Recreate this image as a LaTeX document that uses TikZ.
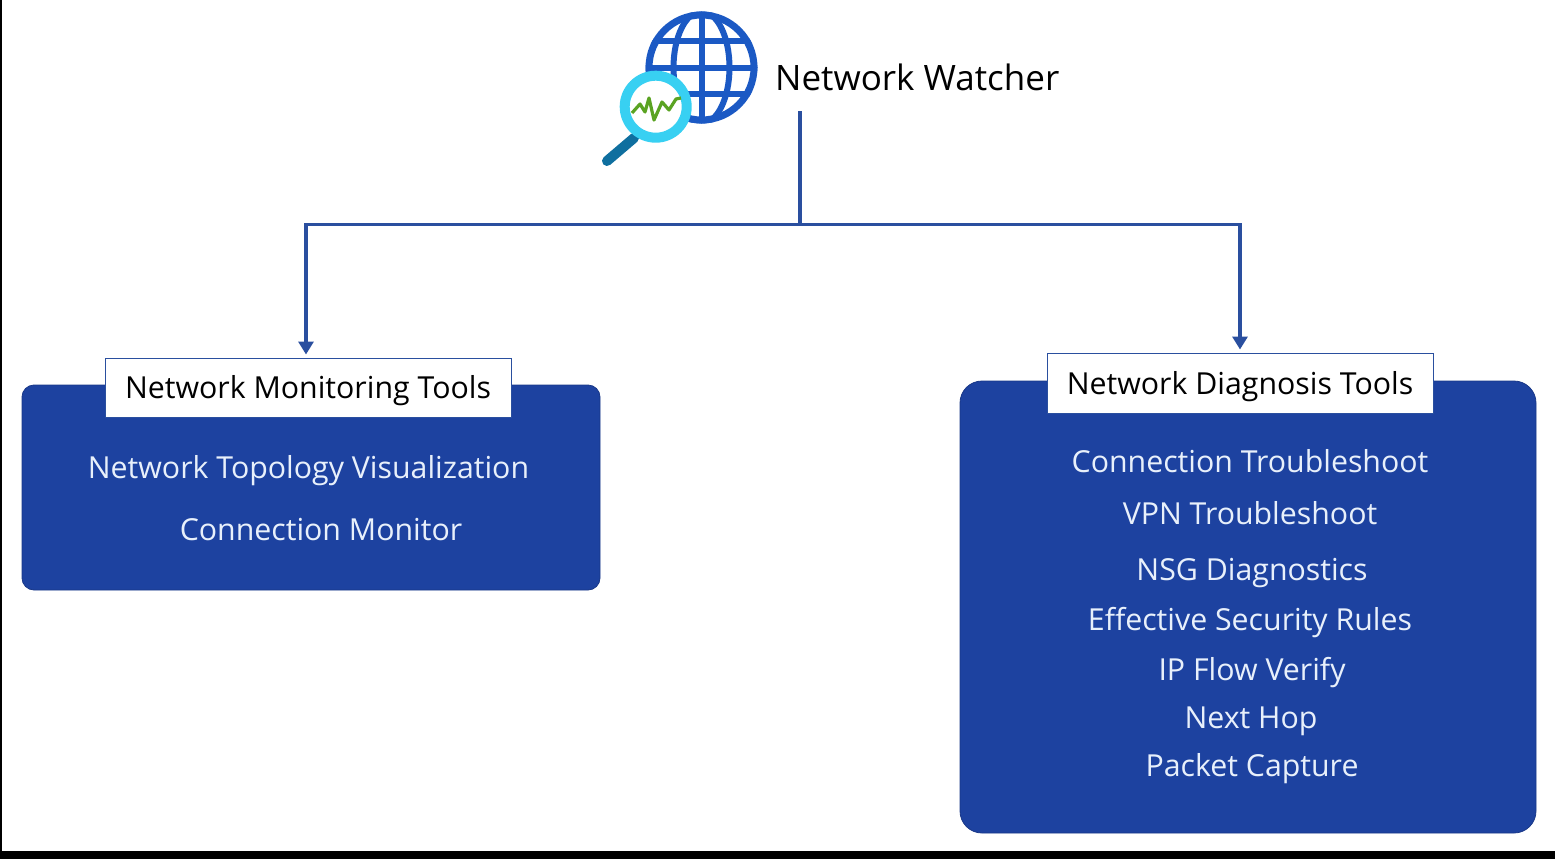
\documentclass[tikz,border=0pt]{standalone}
\usepackage{fontspec}
\setmainfont{Open Sans}
\usetikzlibrary{arrows.meta}

\definecolor{panelblue}{HTML}{1D42A0}
\definecolor{linkblue}{HTML}{2A4F9F}
\definecolor{globeblue}{HTML}{1B59C4}
\definecolor{lensblue}{HTML}{38D0F2}
\definecolor{handleblue}{HTML}{0F6F9F}
\definecolor{pulsegreen}{HTML}{5AA322}
\definecolor{itemwhite}{HTML}{E8F0FB}

\tikzset{
    panel/.style={fill=panelblue, draw=panelblue!85!black, line width=0.8pt},
    titlebox/.style={fill=white, draw=linkblue, line width=1pt, text=black, inner sep=0pt, text height=28pt, text depth=6pt, font=\fontsize{30.3}{36}\selectfont},
    item/.style={text=itemwhite, inner sep=0pt, text height=28pt, text depth=6pt, font=\fontsize{30.3}{36}\selectfont},
    link/.style={draw=linkblue, line width=3.2pt},
    linkarrow/.style={link, -{Triangle[length=13pt,width=15pt]}, shorten >=3pt}
}

\begin{document}
\begin{tikzpicture}[x=1pt, y=-1pt]

    \useasboundingbox (0,0) rectangle (1555,859);

    % Page edges
    \fill[black] (0,0) rectangle (2,859);
    \fill[black] (0,851) rectangle (1555,859);

    % Globe
    \begin{scope}
        \clip (701.5,67.5) circle (56);
        \fill[white] (701.5,67.5) circle (56);
        \draw[globeblue, line width=6pt] (640,41) -- (760,41);
        \draw[globeblue, line width=6pt] (640,68) -- (760,68);
        \draw[globeblue, line width=6pt] (640,94) -- (760,94);
        \draw[globeblue, line width=6pt] (701.5,67.5) ellipse (28 and 56);
        \draw[globeblue, line width=6pt] (701.5,5) -- (701.5,130);
    \end{scope}
    \draw[globeblue, line width=7pt] (701.5,67.5) circle (52.5);

    % Magnifier
    \draw[handleblue, line width=10pt, line cap=round] (634,138) -- (607,161);
    \draw[lensblue, fill=white, line width=10pt] (655.7,106.7) circle (31);
    \draw[pulsegreen, line width=3.2pt, line join=round]
        (632,113) -- (640,104) -- (645,112) -- (649,98) -- (654,120) -- (662,102) -- (669,110) -- (676,99) -- (681,98);

    % Heading
    \node[anchor=west, inner sep=0pt, text=black, text height=32pt, text depth=6pt, font=\fontsize{35}{42}\selectfont] (watcher) at (775,77) {Network Watcher};

    % Draw panels
    \draw[panel, rounded corners=12pt] (22,385) rectangle (600,590);
    \draw[panel, rounded corners=22pt] (960,381) rectangle (1536,833);

    % Panel titles
    \node[titlebox, minimum width=406pt, minimum height=59pt] (montitle) at (308,387.5) {Network Monitoring Tools};
    \node[titlebox, minimum width=386pt, minimum height=60pt] (diagtitle) at (1240,383) {Network Diagnosis Tools};

    % Links
    \coordinate (stem) at (800,111);
    \coordinate (hub) at (800,224.5);
    \draw[link] (stem) -- (hub);
    \draw[linkarrow] (hub) -| ([xshift=-2pt]montitle.north);
    \draw[linkarrow] (hub) -| (diagtitle.north);

    % Monitoring items
    \node[item] (topology) at (308.5,467) {Network Topology Visualization};
    \node[item] (connmon) at (321,529) {Connection Monitor};

    % Diagnosis items
    \node[item] (conntrouble) at (1250,461) {Connection Troubleshoot};
    \node[item] (vpntrouble) at (1250,513) {VPN Troubleshoot};
    \node[item] (nsg) at (1252,569) {NSG Diagnostics};
    \node[item] (rules) at (1250,619) {Effective Security Rules};
    \node[item] (ipflow) at (1252,669) {IP Flow Verify};
    \node[item] (nexthop) at (1251,717) {Next Hop};
    \node[item] (capture) at (1252,765) {Packet Capture};

\end{tikzpicture}
\end{document}
